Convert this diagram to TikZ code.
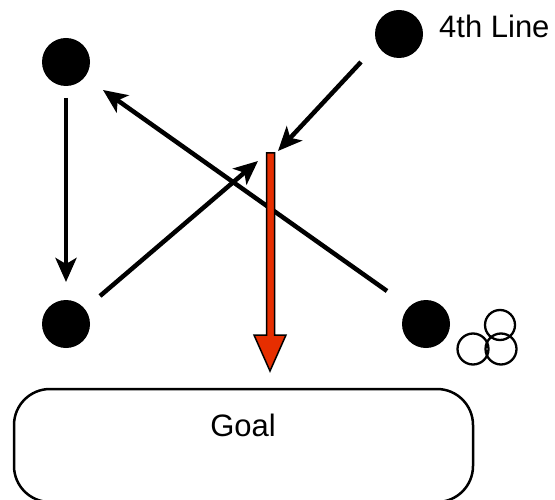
\documentclass[tikz,border=0pt]{standalone}
\usepackage{fontspec}
\setmainfont{Liberation Sans}
\usetikzlibrary{arrows.meta}
\definecolor{arrowred}{RGB}{230,46,0}
\begin{document}
\begin{tikzpicture}[x=1bp,y=-1bp,
  dot/.style={circle,fill=black,inner sep=0pt,minimum size=48bp},
  ring/.style={draw=black,line width=2.3bp},
  pass/.style={line width=4.5bp,-{Stealth[length=24bp,width=21bp,inset=6bp]}},
  label/.style={font=\fontsize{31bp}{37bp}\selectfont,inner sep=0pt},
  goalbox/.style={draw=black,line width=2.5bp,rounded corners=36bp}]
\useasboundingbox (0,0) rectangle (555,500);

% players
\node[dot] (p1) at (66,62) {};
\node[dot] (p2) at (399,34) {};
\node[dot] (p3) at (66,324) {};
\node[dot] (p4) at (426,324) {};

\node[label,anchor=base west] (line4) at (439,38) {4th Line};

% cluster of balls
\draw[ring] (500,325) circle (15);
\draw[ring] (473,349) circle (15.5);
\draw[ring] (501,349) circle (15.5);

% passing lines
\coordinate (a1) at (66,98);   \coordinate (a2) at (66,282);
\coordinate (b1) at (100,296); \coordinate (b2) at (258,161);
\coordinate (c1) at (387,291); \coordinate (c2) at (103,90);
\coordinate (d1) at (361,62);  \coordinate (d2) at (278,151);
\draw[pass] (a1) -- (a2);
\draw[pass] (b1) -- (b2);
\draw[pass] (c1) -- (c2);

% shot on goal
\draw[draw=black,line width=1.5bp,fill=arrowred,line join=miter]
  (266.5,153) -- (274.5,153) -- (274.5,335) -- (286,335) -- (270,371)
  -- (254,335) -- (266.5,335) -- cycle;
\draw[pass] (d1) -- (d2);

% goal
\draw[goalbox] (14,389) rectangle (473,502);
\node[label,anchor=base] (goal) at (243,436) {Goal};
\end{tikzpicture}
\end{document}
